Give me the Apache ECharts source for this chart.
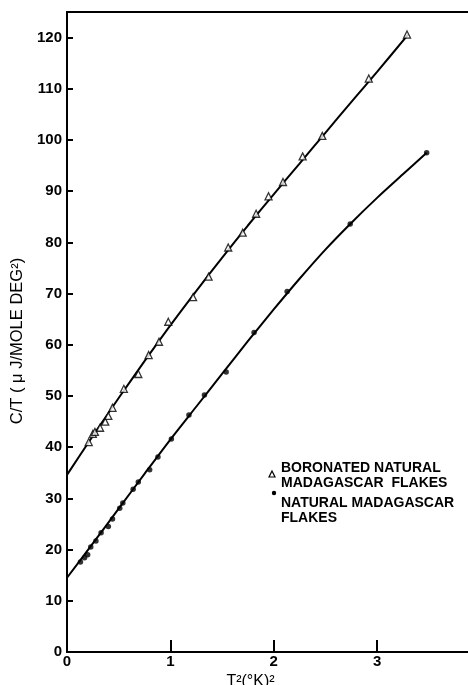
<!DOCTYPE html>
<html><head><meta charset="utf-8">
<script src="https://cdn.jsdelivr.net/npm/echarts@6/dist/echarts.min.js"></script>
<style>html,body{margin:0;padding:0;background:#fff}#c{width:468px;height:685px}</style>
</head><body><div id="c"></div>
<script>
// Boronated natural Madagascar flakes (triangles)
const boronX = [0.21,0.25,0.27,0.32,0.37,0.40,0.44,0.55,0.69,0.79,0.89,0.98,1.22,1.37,1.56,1.70,1.83,1.95,2.09,2.28,2.47,2.92,3.29];
const boronY = [41.0,42.6,43.0,43.8,45.0,46.1,47.7,51.4,54.3,58.0,60.6,64.5,69.3,73.3,79.0,81.9,85.6,89.0,91.8,96.8,100.8,112.0,120.6];
// Natural Madagascar flakes (dots)
const natX = [0.13,0.17,0.20,0.23,0.28,0.33,0.40,0.44,0.51,0.54,0.64,0.69,0.80,0.88,1.01,1.18,1.33,1.54,1.81,2.13,2.74,3.48];
const natY = [17.6,18.4,19.0,20.5,21.7,23.3,24.5,26.0,28.1,29.1,31.8,33.2,35.6,38.1,41.6,46.3,50.2,54.7,62.4,70.4,83.6,97.5];
// Smooth curves drawn through the data
const boronCurveX = [0,0.25,0.5,0.75,1.0,1.25,1.5,1.75,2.0,2.25,2.5,2.75,3.0,3.3];
const boronCurveY = [34.6,42.2,49.6,56.8,63.8,70.5,77.0,83.3,89.4,95.4,101.4,107.4,113.3,120.6];
const natCurveX = [0,0.25,0.5,0.75,1.0,1.25,1.5,1.75,2.0,2.25,2.5,2.75,3.0,3.25,3.48];
const natCurveY = [14.5,21.2,28.0,34.8,41.5,47.9,54.3,60.7,66.9,72.9,78.6,83.8,88.7,93.3,97.5];
const xTicks = [0,1,2,3];
const yTicks = [0,10,20,30,40,50,60,70,80,90,100,110,120];

const zip = (a,b)=>a.map((v,i)=>[v,b[i]]);
const FONT = 'Liberation Sans';
const chart = echarts.init(document.getElementById('c'), null, {renderer:'canvas'});
chart.setOption({
  animation:false,
  backgroundColor:'#fff',
  grid:{left:67,top:12,right:0,bottom:33,containLabel:false,outerBoundsMode:'none'},
  xAxis:[{
    type:'value',min:0,max:3.88,interval:1,
    axisLine:{lineStyle:{color:'#000',width:2}},
    axisTick:{inside:true,length:12,lineStyle:{color:'#000',width:2}},
    splitLine:{show:false},
    axisLabel:{color:'#000',fontSize:15,fontWeight:'bold',fontFamily:FONT,margin:2,
      formatter:v=>xTicks.includes(v)?String(v):'',showMaxLabel:false},
    name:'T\u00b2(\u00b0K)\u00b2',nameLocation:'middle',nameGap:14,
    nameTextStyle:{color:'#000',fontSize:16,fontFamily:FONT,padding:[0,34,0,0]}
  },{
    type:'value',position:'top',min:0,max:3.88,
    axisLine:{show:true,lineStyle:{color:'#000',width:2}},
    axisTick:{show:false},axisLabel:{show:false},splitLine:{show:false}
  }],
  yAxis:{
    type:'value',min:0,max:125,interval:10,
    axisLine:{show:true,lineStyle:{color:'#000',width:2}},
    axisTick:{show:true,inside:true,length:6,lineStyle:{color:'#000',width:2}},
    splitLine:{show:false},
    axisLabel:{color:'#000',fontSize:15,fontWeight:'bold',fontFamily:FONT,margin:5,
      formatter:v=>yTicks.includes(v)?String(v):''},
    name:'C/T ( \u03bc J/MOLE DEG\u00b2)',nameLocation:'middle',nameGap:40,nameRotate:90,
    nameTextStyle:{color:'#000',fontSize:16.5,fontFamily:FONT,padding:[0,18,0,0]}
  },
  series:[
    {type:'line',data:zip(boronCurveX,boronCurveY),smooth:0.3,showSymbol:false,
     lineStyle:{color:'#000',width:2},z:2,silent:true},
    {type:'line',data:zip(natCurveX,natCurveY),smooth:0.3,showSymbol:false,
     lineStyle:{color:'#000',width:2},z:2,silent:true},
    {type:'scatter',name:'BORONATED NATURAL MADAGASCAR FLAKES',data:zip(boronX,boronY),
     symbol:'triangle',symbolSize:7,itemStyle:{color:'#fff',borderColor:'#000',borderWidth:1.3},z:3},
    {type:'scatter',name:'NATURAL MADAGASCAR FLAKES',data:zip(natX,natY),
     symbol:'circle',symbolSize:5.5,itemStyle:{color:'#000'},z:3}
  ],
  graphic:[
    {type:'polygon',shape:{points:[[272,471],[269,477],[275,477]]},style:{fill:'#fff',stroke:'#000',lineWidth:1.2}},
    {type:'text',left:281,top:461,style:{text:'BORONATED NATURAL\nMADAGASCAR  FLAKES',fill:'#000',font:'bold 14px "Liberation Sans"',lineHeight:15}},
    {type:'circle',shape:{cx:274,cy:493,r:2.2},style:{fill:'#000'}},
    {type:'text',left:281,top:496,style:{text:'NATURAL MADAGASCAR\nFLAKES',fill:'#000',font:'bold 14px "Liberation Sans"',lineHeight:15}}
  ]
});
</script></body></html>
